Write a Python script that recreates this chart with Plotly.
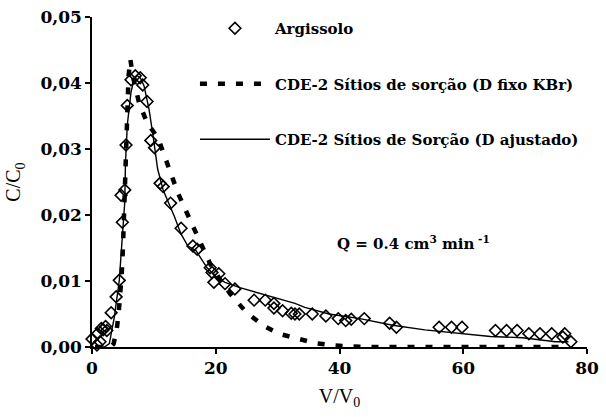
import plotly.graph_objects as go

# Observed data (Argissolo)
obs_x = [0.0, 0.8, 0.9, 1.3, 1.5, 1.8, 2.2, 2.4, 3.1, 3.9, 4.4, 4.9, 4.7, 5.3, 5.5, 5.7, 6.3, 7.0, 7.8, 8.2,
         8.9, 9.5, 10.1, 11.0, 11.5, 12.7, 14.4, 16.3, 17.0, 19.1, 19.4, 19.7, 20.5, 21.5, 23.1, 26.2,
         28.0, 29.4, 29.4, 30.8, 32.2, 32.8, 33.5, 35.6, 37.8, 39.8, 41.0, 41.9, 44.0, 48.1, 49.2,
         56.1, 58.1, 59.8, 65.2, 67.0, 68.7, 70.6, 72.4, 74.3, 76.4, 76.1, 77.4]
obs_y = [0.0012, 0.0003, 0.0020, 0.0008, 0.0028, 0.0026, 0.0031, 0.0025, 0.0052, 0.0076, 0.0101, 0.0189,
         0.0230, 0.0238, 0.0306, 0.0366, 0.0405, 0.0411, 0.0408, 0.0397, 0.0372, 0.0313, 0.0302, 0.0248,
         0.0243, 0.0218, 0.0180, 0.0153, 0.0148, 0.0120, 0.0113, 0.0098, 0.0111, 0.0096, 0.0088, 0.0071,
         0.0071, 0.0066, 0.0059, 0.0055, 0.0051, 0.0050, 0.0050, 0.0050, 0.0047, 0.0043, 0.0040, 0.0042,
         0.0043, 0.0036, 0.0030, 0.0030, 0.0030, 0.0030, 0.0025, 0.0025, 0.0025, 0.0020, 0.0020, 0.0020,
         0.0020, 0.0015, 0.0008]

# CDE-2 sites, D fixed (KBr)
fix_x = [0.5, 2.0, 3.0, 3.5, 4.0, 4.3, 4.6, 4.8, 5.0, 5.2, 5.4, 5.6, 5.9, 6.2, 6.6, 7.6, 8.9, 10.7, 11.8,
         12.8, 13.9, 15.2, 16.5, 17.8, 19.1, 20.7, 22.3, 24.9, 27.6, 30.2, 32.8, 36.0, 38.6, 41.2, 45.0,
         50.0, 60.0, 70.0, 77.0]
fix_y = [0.0, 0.0, 0.0, 0.0005, 0.0027, 0.0050, 0.0080, 0.0110, 0.0150, 0.0210, 0.0280, 0.0350, 0.0410,
         0.0436, 0.0410, 0.0370, 0.0340, 0.0316, 0.0287, 0.0260, 0.0233, 0.0206, 0.0178, 0.0152, 0.0126,
         0.0102, 0.0081, 0.0053, 0.0033, 0.0020, 0.0013, 0.0006, 0.0003, 0.0001, 0.0, 0.0, 0.0, 0.0, 0.0]

# CDE-2 sites, D fitted
fit_x = [0.5, 2.0, 2.8, 3.6, 4.4, 4.85, 5.3, 5.4, 5.7, 6.3, 6.8, 7.3, 7.8, 8.4, 9.2, 9.9, 10.6, 11.5, 12.3,
         13.3, 14.4, 15.5, 16.8, 18.6, 20.2, 21.5, 23.9, 27.6, 29.1, 32.8, 34.4, 38.3, 43.3, 48.6, 53.8,
         59.1, 64.4, 69.6, 74.9, 77.0]
fit_y = [0.0, 0.0, 0.0005, 0.0045, 0.0100, 0.0160, 0.0220, 0.0276, 0.0336, 0.0386, 0.0406, 0.0411, 0.0408,
         0.0396, 0.0361, 0.0318, 0.0270, 0.0238, 0.0221, 0.0198, 0.0171, 0.0153, 0.0146, 0.0120, 0.0105,
         0.0098, 0.0090, 0.0080, 0.0076, 0.0066, 0.0060, 0.0050, 0.0043, 0.0033, 0.0026, 0.0021, 0.0016,
         0.0014, 0.0008, 0.0008]

x_ticks = [0, 20, 40, 60, 80]
y_ticks = [0.0, 0.01, 0.02, 0.03, 0.04, 0.05]

FONT = "Liberation Serif"
BFONT = "DejaVu Serif"
BOLD = dict(family=BFONT, color="black", weight="bold")

fig = go.Figure()
fig.add_trace(go.Scatter(
    x=obs_x, y=obs_y, mode="markers", name="Argissolo",
    marker=dict(symbol="diamond-open", size=9, color="black", line=dict(width=1.6, color="black")),
    cliponaxis=False, legendgroup="a", legendrank=1))
fig.add_trace(go.Scatter(
    x=fix_x, y=fix_y, mode="lines", name="CDE-2 Sítios de sorção (D fixo KBr)",
    line=dict(color="black", width=4.5, dash="7px,11px"), cliponaxis=False, legendgroup="b",
    legendrank=2))
fig.add_trace(go.Scatter(
    x=fit_x, y=fit_y, mode="lines", name="CDE-2 Sítios de Sorção (D ajustado)",
    line=dict(color="black", width=1.4), cliponaxis=False, legendgroup="c", legendrank=3))

fig.add_annotation(x=52, y=0.0158, xref="x", yref="y", showarrow=False,
                   text="Q = 0.4 cm<sup>3</sup> min<sup> -1</sup>",
                   font=dict(BOLD, size=15))

fig.update_layout(
    width=606, height=417,
    margin=dict(l=92, r=7, t=14, b=70),
    paper_bgcolor="white", plot_bgcolor="white",
    font=dict(family=FONT, color="black"),
    showlegend=True,
    legend=dict(x=0.208, y=1.015, xanchor="left", yanchor="top", bgcolor="rgba(0,0,0,0)",
                font=dict(BOLD, size=15), itemwidth=70,
                tracegroupgap=33, traceorder="grouped"),
    xaxis=dict(range=[0, 80], tickvals=x_ticks, ticktext=[str(v) for v in x_ticks],
               showline=True, linecolor="black", linewidth=1.5, ticks="outside", ticklen=5,
               tickcolor="black", tickwidth=1.5, showgrid=False, zeroline=False,
               ticklabeloverflow="allow",
               tickfont=dict(BOLD, size=17),
               title=dict(text="V/V<sub>0</sub>", font=dict(family=FONT, size=20, color="black"),
                          standoff=12)),
    yaxis=dict(range=[0, 0.05], tickvals=y_ticks,
               ticktext=[("%.2f" % v).replace(".", ",") for v in y_ticks],
               showline=True, linecolor="black", linewidth=1.5, ticks="outside", ticklen=5,
               tickcolor="black", tickwidth=1.5, showgrid=False, zeroline=False,
               tickfont=dict(BOLD, size=17),
               title=dict(text="C/C<sub>0</sub>", font=dict(family=FONT, size=20, color="black"),
                          standoff=14)),
)

fig.write_html("out.html")
